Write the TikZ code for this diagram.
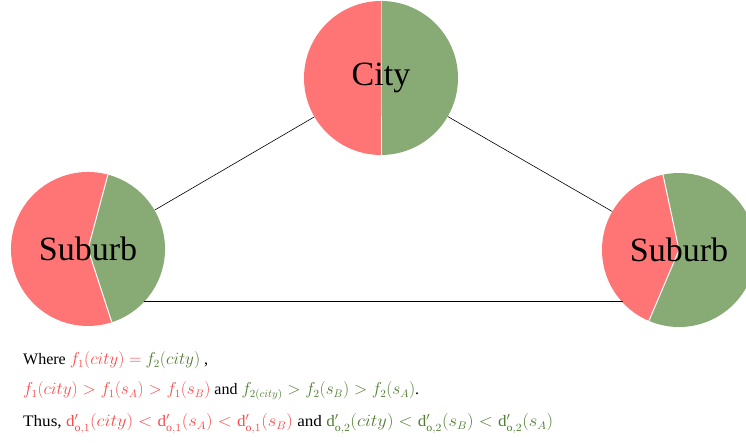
\documentclass[tikz,border=0pt]{standalone}
\usepackage{fontspec}
\setmainfont{Liberation Serif}
\definecolor{wred}{RGB}{255,117,117}
\definecolor{wgreen}{RGB}{136,170,116}
\definecolor{tred}{RGB}{250,75,75}
\definecolor{tgreen}{RGB}{80,125,50}
\tikzset{
  cnode/.style={circle, minimum size=154pt, inner sep=0pt, font=\fontsize{34}{40}\selectfont},
  link/.style={line width=0.6pt, black},
  divider/.style={white, line width=1pt},
  txt/.style={anchor=base west, inner sep=0pt, font=\fontsize{16}{19}\selectfont}
}
\begin{document}
\begin{tikzpicture}[x=1pt,y=1pt]
\useasboundingbox (0,0) rectangle (746,443);
\clip (0,0) rectangle (746,443);
\fill[white] (0,0) rectangle (746,443);
\coordinate (cc) at (381,365);
\coordinate (lc) at (88,194);
\coordinate (rc) at (679,193);
% city pie
\fill[wred] (cc) -- ++(90:77) arc[start angle=90, end angle=270, radius=77] -- cycle;
\fill[wgreen] (cc) -- ++(-90:77) arc[start angle=-90, end angle=90, radius=77] -- cycle;
\draw[divider] (cc) ++(90:77) -- (cc) -- ++(-90:77);
% left suburb pie
\fill[wgreen] (lc) -- ++(-72:77) arc[start angle=-72, end angle=75, radius=77] -- cycle;
\fill[wred] (lc) -- ++(75:77) arc[start angle=75, end angle=288, radius=77] -- cycle;
\draw[divider] (lc) ++(75:77) -- (lc) -- ++(-72:77);
% right suburb pie
\fill[wred] (rc) -- ++(102:77) arc[start angle=102, end angle=247, radius=77] -- cycle;
\fill[wgreen] (rc) -- ++(247:77) arc[start angle=247, end angle=462, radius=77] -- cycle;
\draw[divider] (rc) ++(102:77) -- (rc) -- ++(247:77);
% nodes
\node[cnode] (city) at (cc) {City};
\node[cnode] (subl) at (lc) {Suburb};
\node[cnode] (subr) at (rc) {Suburb};
% connectors
\draw[link] (city) -- (subl);
\draw[link] (city) -- (subr);
\draw[link] (subl.-43) -- (subl.-43 -| subr.223);
% text
\node[txt] (l1) at (23,78) {Where \textcolor{tred}{$f_1(city) =$} \textcolor{tgreen}{$f_2(city)$} ,};
\node[txt] (l2) at (23,48) {\textcolor{tred}{$f_1(city) > f_1(s_A) > f_1(s_B)$} and \textcolor{tgreen}{$f_{2(city)} > f_2(s_B) > f_2(s_A)$}.};
\node[txt] (l3) at (23,16) {\scalebox{1.07}[1]{Thus, \textcolor{tred}{$\mathrm{d}'_{\mathrm{o},1}(city) < \mathrm{d}'_{\mathrm{o},1}(s_A) < \mathrm{d}'_{\mathrm{o},1}(s_B)$} and \textcolor{tgreen}{$\mathrm{d}'_{\mathrm{o},2}(city) < \mathrm{d}'_{\mathrm{o},2}(s_B) < \mathrm{d}'_{\mathrm{o},2}(s_A)$}}};
\end{tikzpicture}
\end{document}
